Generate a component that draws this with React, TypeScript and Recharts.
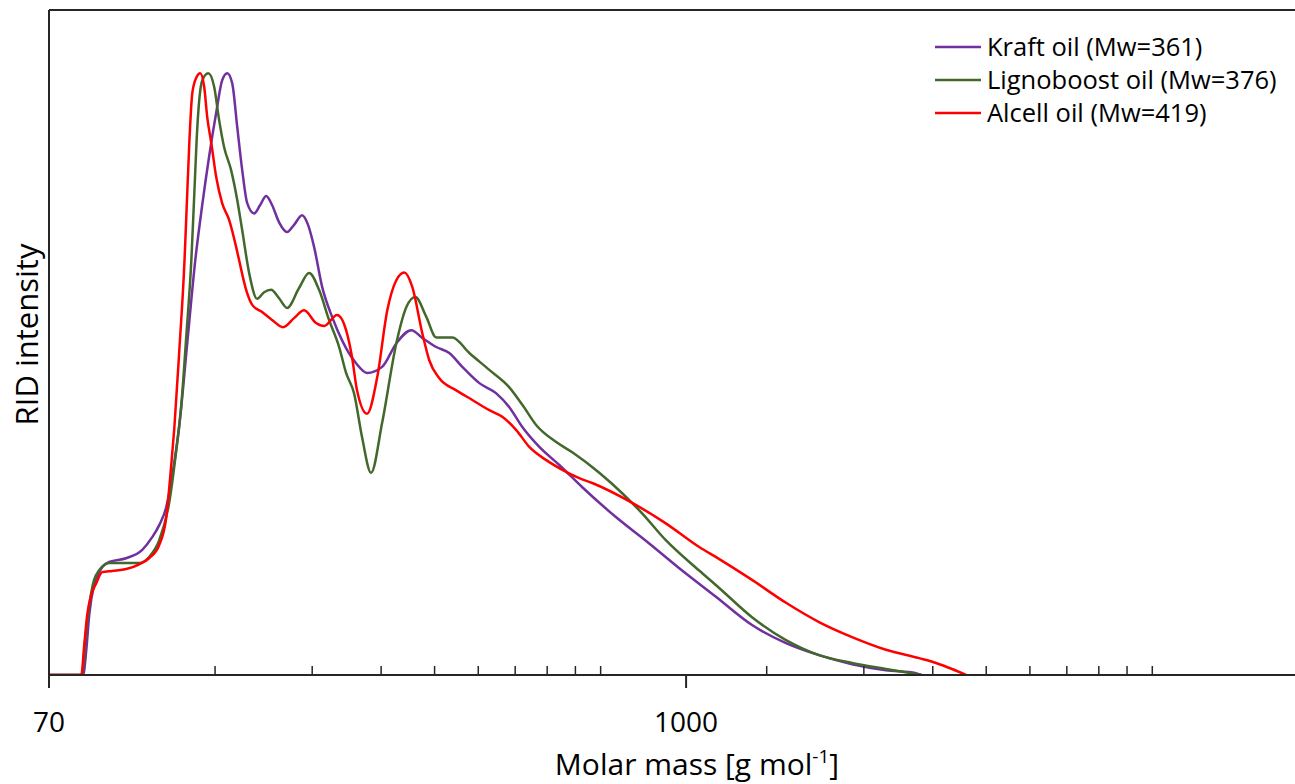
import React from "react";
import { LineChart, Line, XAxis, YAxis, ReferenceLine, Legend } from "recharts";

// molar mass [g/mol] and normalised RID signal
const kraftMass = [
  70, 80.7, 81.8, 82.8, 84.5, 86.3, 90.0, 96.6, 103.3, 107.7, 110.9, 114.2, 117.1, 120.6, 124.7,
  128.9, 132.7, 136.7, 140.7, 144.2, 147.3, 150.4, 153.6, 156.8, 160.1, 164.8, 169.0, 173.3, 177.6,
  182.9, 189.1, 194.7, 201.3, 206.4, 211.7, 218.9, 228.2, 237.9, 252.2, 264.0, 281.2, 298.3, 317.6,
  332.5, 352.4, 372.1, 392.9, 421.9, 452.8, 478.1, 504.8, 541.9, 589.0, 648.4, 746.9, 856.2, 982.3,
  1132.5, 1316.8, 1517.4, 1741.6, 1999.4, 2302.6, 2610.7, 2666.3,
];
const kraftRid = [
  0, 0, 0.042, 0.1, 0.15, 0.171, 0.188, 0.194, 0.208, 0.229, 0.249, 0.279, 0.332, 0.415, 0.553,
  0.689, 0.781, 0.864, 0.935, 0.988, 1.0, 0.983, 0.91, 0.839, 0.784, 0.767, 0.781, 0.796, 0.781,
  0.752, 0.736, 0.748, 0.764, 0.748, 0.711, 0.645, 0.595, 0.556, 0.518, 0.502, 0.512, 0.551, 0.573,
  0.56, 0.545, 0.535, 0.512, 0.485, 0.468, 0.445, 0.412, 0.379, 0.349, 0.312, 0.262, 0.219, 0.174,
  0.13, 0.083, 0.053, 0.033, 0.018, 0.008, 0.003, 0,
];

const ligMass = [
  70, 80.4, 81.4, 82.8, 84.5, 86.3, 90.0, 96.6, 102.0, 106.3, 110.9, 115.6, 119.1, 121.6, 124.2,
  126.8, 128.4, 130.0, 132.7, 136.1, 139.5, 142.4, 145.4, 149.7, 153.6, 156.8, 161.4, 166.9, 171.8,
  176.9, 182.9, 189.1, 198.8, 207.3, 216.1, 225.3, 235.0, 241.9, 250.1, 258.6, 268.5, 281.2, 298.3,
  311.0, 322.9, 338.1, 352.4, 376.9, 404.6, 439.8, 478.1, 504.8, 535.2, 581.6, 621.8, 696.0, 765.9,
  831.5, 918.8, 1054.7, 1146.7, 1316.8, 1517.4, 1741.6, 1999.4, 2302.6, 2677.4,
];
const ligRid = [
  0, 0, 0.058, 0.116, 0.158, 0.174, 0.186, 0.186, 0.186, 0.196, 0.224, 0.286, 0.374, 0.449, 0.565,
  0.689, 0.801, 0.91, 0.988, 1.0, 0.977, 0.922, 0.877, 0.839, 0.789, 0.739, 0.668, 0.625, 0.636,
  0.64, 0.626, 0.61, 0.643, 0.668, 0.64, 0.59, 0.545, 0.502, 0.468, 0.395, 0.336, 0.419, 0.551,
  0.611, 0.628, 0.595, 0.561, 0.561, 0.535, 0.507, 0.478, 0.449, 0.415, 0.387, 0.37, 0.336, 0.302,
  0.269, 0.224, 0.174, 0.145, 0.096, 0.058, 0.033, 0.02, 0.01, 0,
];

const alcellMass = [
  70, 80.1, 81.1, 82.1, 83.5, 85.3, 87.4, 91.1, 96.6, 102.0, 106.3, 110.9, 114.2, 116.6, 118.1,
  120.6, 123.2, 124.2, 125.8, 127.3, 129.5, 131.6, 133.8, 135.5, 137.8, 140.7, 144.2, 148.5, 152.9,
  154.8, 159.4, 163.5, 170.4, 177.6, 186.0, 194.7, 203.0, 213.4, 220.7, 233.0, 241.9, 248.0, 253.2,
  264.0, 275.5, 287.3, 298.3, 308.4, 318.9, 332.5, 342.3, 357.0, 383.2, 409.7, 439.8, 464.3, 492.2,
  519.7, 557.9, 596.5, 640.3, 675.9, 798.5, 918.8, 1054.7, 1146.7, 1316.8, 1517.4, 1741.6, 1999.4,
  2302.6, 2644.0, 2838.7, 3034.9, 3217.5,
];
const alcellRid = [
  0, 0, 0.05, 0.1, 0.133, 0.153, 0.171, 0.173, 0.176, 0.184, 0.194, 0.216, 0.262, 0.349, 0.41,
  0.54, 0.686, 0.764, 0.889, 0.967, 0.993, 1.0, 0.977, 0.927, 0.884, 0.827, 0.784, 0.756, 0.711,
  0.689, 0.64, 0.615, 0.603, 0.59, 0.578, 0.593, 0.606, 0.585, 0.58, 0.598, 0.573, 0.528, 0.473,
  0.434, 0.495, 0.606, 0.656, 0.669, 0.645, 0.568, 0.523, 0.493, 0.473, 0.457, 0.44, 0.429, 0.407,
  0.379, 0.357, 0.341, 0.327, 0.319, 0.286, 0.252, 0.213, 0.193, 0.158, 0.12, 0.088, 0.063,
  0.042, 0.028, 0.02, 0.01, 0,
];

const majorTicks = [70, 1000];
const minorTicks = [
  140, 210, 280, 350, 420, 490, 560, 630, 700, 1400, 2100, 2800, 3500, 4200, 4900, 5600, 6300, 7000,
];

const X_MIN = 70;
const X_MAX = 12700;
const Y_MAX = 1.105;

const FONT = "'Open Sans', Lato, sans-serif";
const AXIS = "#262626";

const toRows = (mass: number[], rid: number[]) => mass.map((m, i) => ({ mass: m, rid: rid[i] }));

const series = [
  { name: "Kraft oil (Mw=361)", color: "#7030A0", data: toRows(kraftMass, kraftRid) },
  { name: "Lignoboost oil (Mw=376)", color: "#43682B", data: toRows(ligMass, ligRid) },
  { name: "Alcell oil (Mw=419)", color: "#FF0000", data: toRows(alcellMass, alcellRid) },
];

function MassTick(props: any) {
  const { x, y, payload } = props;
  const v = payload.value;
  if (majorTicks.includes(v)) {
    return (
      <g>
        <line x1={x} x2={x} y1={y} y2={y + 13} stroke={AXIS} strokeWidth={2} />
        <text x={x} y={y + 57} textAnchor="middle" fontSize={28} fontFamily={FONT} fill="#000">
          {v}
        </text>
      </g>
    );
  }
  return <line x1={x} x2={x} y1={y} y2={y - 9} stroke={AXIS} strokeWidth={1.5} />;
}

function LegendBox() {
  return (
    <div style={{ fontFamily: FONT, fontSize: 25.5, color: "#000", lineHeight: 1 }}>
      {series.map((s) => (
        <div key={s.name} style={{ display: "flex", alignItems: "center", height: 33 }}>
          <svg width={46} height={4}>
            <line x1={0} x2={46} y1={2} y2={2} stroke={s.color} strokeWidth={2.5} />
          </svg>
          <span style={{ marginLeft: 6, whiteSpace: "nowrap" }}>{s.name}</span>
        </div>
      ))}
    </div>
  );
}

export default function App() {
  return (
    <div style={{ position: "absolute", left: 0, top: 0, background: "#fff" }}>
      <LineChart width={1295} height={784} margin={{ top: 10, right: 0, left: 0, bottom: 0 }}>
        <XAxis
          xAxisId={0}
          dataKey="mass"
          type="number"
          scale="log"
          domain={[X_MIN, X_MAX]}
          allowDataOverflow
          ticks={[...majorTicks, ...minorTicks]}
          interval={0}
          tick={<MassTick />}
          tickLine={false}
          tickSize={0}
          tickMargin={0}
          height={109}
          axisLine={{ stroke: AXIS, strokeWidth: 2 }}
          label={{
            content: (p: any) => {
              const vb = p.viewBox;
              return (
                <text
                  x={vb.x + vb.width / 2 + 25}
                  y={vb.y + 100}
                  textAnchor="middle"
                  fontSize={30}
                  fontFamily={FONT}
                  fill="#000"
                >
                  Molar mass [g mol
                  <tspan dy={-12} fontSize={19}>-1</tspan>
                  <tspan dy={12}>]</tspan>
                </text>
              );
            },
          }}
        />
        <YAxis
          yAxisId={0}
          type="number"
          domain={[0, Y_MAX]}
          allowDataOverflow
          width={49}
          tick={false}
          tickLine={false}
          axisLine={{ stroke: AXIS, strokeWidth: 2 }}
          label={{
            content: (p: any) => {
              const vb = p.viewBox;
              const cy = vb.y + vb.height / 2 - 8;
              return (
                <text
                  transform={`translate(${vb.x + 26}, ${cy}) rotate(-90)`}
                  textAnchor="middle"
                  dominantBaseline="central"
                  fontSize={31}
                  fontFamily={FONT}
                  fill="#000"
                >
                  RID intensity
                </text>
              );
            },
          }}
        />
        <ReferenceLine y={Y_MAX} stroke={AXIS} strokeWidth={2} />
        <Legend
          layout="vertical"
          align="center"
          verticalAlign="middle"
          content={<LegendBox />}
          wrapperStyle={{ left: 935, top: 30, width: "auto" }}
        />
        {series.map((s) => (
          <Line
            key={s.name}
            data={s.data}
            dataKey="rid"
            name={s.name}
            type="monotone"
            stroke={s.color}
            strokeWidth={2.5}
            dot={false}
            activeDot={false}
            isAnimationActive={false}
          />
        ))}
      </LineChart>
    </div>
  );
}
